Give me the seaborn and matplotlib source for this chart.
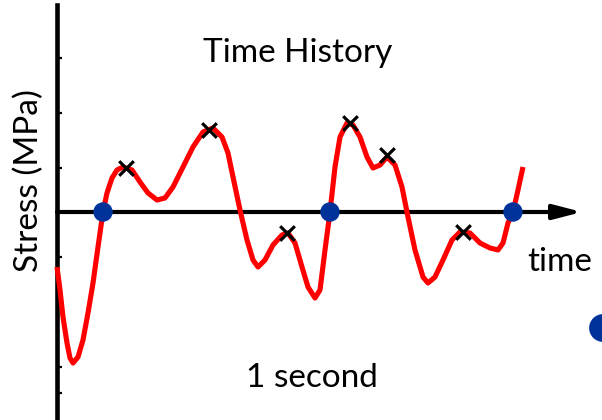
import matplotlib
matplotlib.use("Agg")
import matplotlib.pyplot as plt
import seaborn as sns
import pandas as pd

# Stress time history (time measured from the axis origin, stress in arbitrary units)
time = [0, 3, 6, 10, 13, 16, 21, 26, 31, 36, 41, 46, 50, 55, 60, 66, 75, 83, 91,
        100, 108, 116, 126, 136, 146, 156, 165, 171, 176, 183, 190, 196, 201, 208,
        216, 225, 231, 238, 245, 251, 258, 263, 268, 273, 278, 283, 290, 296, 303,
        310, 316, 323, 330, 338, 345, 351, 358, 366, 371, 378, 386, 395, 403, 413,
        423, 433, 441, 446, 451, 456, 461, 466]
stress = [-55, -78, -105, -131, -146, -151, -145, -128, -101, -71, -35, 0, 19, 34,
          42, 45, 42, 30, 19, 12, 14, 25, 45, 65, 80, 84, 75, 59, 35, 2, -28, -48,
          -55, -48, -33, -23, -21, -31, -55, -75, -86, -78, -38, 0, 45, 75, 89, 87,
          75, 55, 44, 47, 55, 47, 25, -5, -38, -65, -71, -65, -48, -28, -20, -21,
          -31, -36, -38, -31, -11, 0, 22, 45]

# Zero crossings (cycle boundaries)
cross_time = [46, 273, 456]
cross_stress = [0, 0, 0]

# Turning points (peaks and valleys)
peak_time = [69, 152, 230, 293, 330, 406]
peak_stress = [44, 82, -21, 89, 57, -20]

# Tick positions along the stress axis
stress_ticks = [154, 99, 44, -45, -155, -181]

curve = pd.DataFrame({"time": time, "stress": stress})
crossings = pd.DataFrame({"time": cross_time, "stress": cross_stress})
peaks = pd.DataFrame({"time": peak_time, "stress": peak_stress})

sns.set_theme(style="white")
plt.rcParams["font.family"] = ["Lato", "DejaVu Sans"]

fig = plt.figure(figsize=(6.02, 4.20), dpi=100)
ax = fig.add_axes([0, 0, 1, 1])
ax.set_xlim(-57, 545)
ax.set_ylim(-208, 212)

# Stress axis: left spine through the origin with inward ticks
for side in ("top", "right", "bottom"):
    ax.spines[side].set_visible(False)
ax.spines["left"].set_position(("data", 0))
ax.spines["left"].set_bounds(-210, 207)
ax.spines["left"].set_linewidth(3.3)
ax.spines["left"].set_color("black")
ax.set_xticks([])
ax.set_yticks(stress_ticks)
ax.set_yticklabels([])
ax.tick_params(axis="y", direction="in", length=3.5, width=1.6, color="black", left=True)

# Time axis arrow
ax.annotate("", xy=(525, 0), xytext=(0, 0),
            arrowprops=dict(arrowstyle="-|>,head_length=0.85,head_width=0.22",
                            lw=3.0, color="black", mutation_scale=20,
                            shrinkA=0, shrinkB=0), zorder=2)

sns.lineplot(data=curve, x="time", y="stress", sort=False, estimator=None,
             color="#ff0000", lw=3.7, ax=ax, zorder=3,
             solid_capstyle="butt", solid_joinstyle="round")

sns.scatterplot(data=crossings, x="time", y="stress", s=14 ** 2, color="#003399",
                edgecolor="none", ax=ax, zorder=4)

sns.scatterplot(data=peaks, x="time", y="stress", marker="x", s=10.5 ** 2,
                color="black", linewidth=2.3, ax=ax, zorder=5)

# Partly visible marker at the right edge
ax.scatter([546], [-116], s=20 ** 2, color="#003399", edgecolor="none",
           clip_on=False, zorder=4)

ax.set_xlabel("")
ax.set_ylabel("")

ax.text(241, 159, "Time History", ha="center", va="center", fontsize=24, color="black")
ax.text(255, -166, "1 second", ha="center", va="center", fontsize=24, color="black")
ax.text(503, -50, "time", ha="center", va="center", fontsize=24, color="black")
ax.text(-28, 31, "Stress (MPa)", ha="center", va="center", rotation=90,
        fontsize=24, color="black")

fig.savefig("out.png", dpi=100)
